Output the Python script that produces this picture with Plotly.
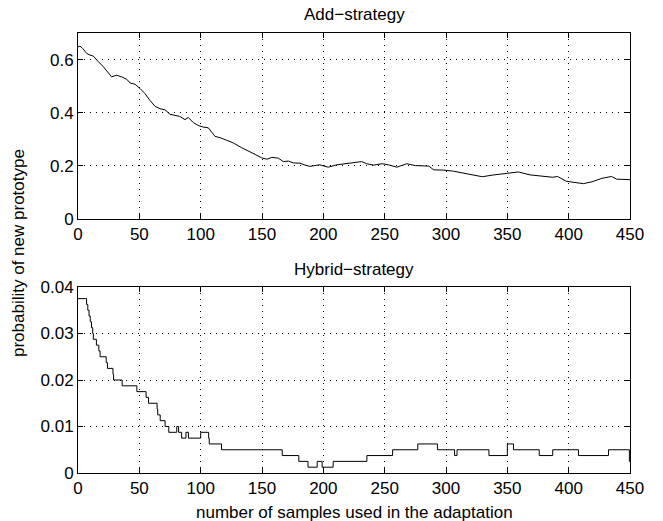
import plotly.graph_objects as go
from plotly.subplots import make_subplots

# Add-strategy curve (sample index, probability)
add_x = [0, 1.6, 3.8, 7.1, 9.8, 12.5, 16.6, 20.7, 27.4, 31.5, 35.6, 39.7, 42.4, 46.5,
         50.6, 54.6, 58.7, 62.8, 66.8, 70.9, 75, 79, 83, 87.2, 89.9, 94, 98, 102,
         106.3, 111.7, 115.8, 121.3, 126.7, 133.5, 139, 144.4, 149.8, 154, 158,
         163.3, 167.4, 171.5, 175.6, 181, 186.4, 189, 197, 204, 211, 222, 231.3,
         235.3, 241, 248, 253, 260, 268, 275, 286, 290, 298, 306, 314, 324, 329.6,
         337.6, 347, 359, 368.5, 376.6, 387, 391, 398, 412, 419, 427, 435, 439,
         448.6, 450]
add_y = [0.648, 0.651, 0.642, 0.623, 0.617, 0.613, 0.592, 0.573, 0.535, 0.541,
         0.535, 0.526, 0.512, 0.507, 0.491, 0.472, 0.446, 0.424, 0.415, 0.411,
         0.394, 0.39, 0.386, 0.374, 0.382, 0.363, 0.352, 0.346, 0.343, 0.311,
         0.306, 0.296, 0.286, 0.268, 0.254, 0.243, 0.23, 0.225, 0.232, 0.229,
         0.216, 0.218, 0.211, 0.21, 0.201, 0.198, 0.204, 0.195, 0.204, 0.21,
         0.216, 0.208, 0.203, 0.208, 0.204, 0.195, 0.208, 0.201, 0.199, 0.185,
         0.184, 0.18, 0.172, 0.164, 0.159, 0.165, 0.17, 0.177, 0.166, 0.162,
         0.157, 0.16, 0.142, 0.133, 0.14, 0.153, 0.16, 0.15, 0.147, 0.148]

# Hybrid-strategy step curve (step start, level)
hyb_x = [0, 7, 8, 9, 10, 11, 12, 12.5, 15, 17, 18, 23, 24, 28.5, 29, 36, 48, 55.5,
         57.5, 64.5, 65, 67, 71, 74, 80.5, 82, 84.5, 88, 90, 100, 106.5, 107, 117,
         166.5, 180, 187.5, 195, 199, 208, 235.5, 256.5, 277, 293, 307, 309, 335,
         350, 355, 376, 387, 408, 432.5, 449.5, 450]
hyb_y = [0.0375, 0.03625, 0.035, 0.03375, 0.0325, 0.03125, 0.03, 0.02875, 0.0275,
         0.02625, 0.025, 0.02375, 0.0225, 0.02125, 0.02, 0.01875, 0.0175, 0.01625,
         0.015, 0.01375, 0.0125, 0.01125, 0.01, 0.00875, 0.01, 0.00875, 0.0075,
         0.00875, 0.0075, 0.00875, 0.0075, 0.00625, 0.005, 0.00375, 0.0025,
         0.00125, 0.0025, 0.00125, 0.0025, 0.00375, 0.005, 0.00625, 0.005,
         0.00375, 0.005, 0.00375, 0.00625, 0.005, 0.00375, 0.005, 0.00375, 0.005,
         0.0025, 0.0025]

x_ticks = [0, 50, 100, 150, 200, 250, 300, 350, 400, 450]
top_yticks = [0, 0.2, 0.4, 0.6]
top_ylabels = ["0", "0.2", "0.4", "0.6"]
bot_yticks = [0, 0.01, 0.02, 0.03, 0.04]
bot_ylabels = ["0", "0.01", "0.02", "0.03", "0.04"]

FONT = "Liberation Sans, Arial, Helvetica, sans-serif"
FS = 17

fig = make_subplots(rows=2, cols=1, vertical_spacing=0.0)
fig.add_trace(go.Scatter(x=add_x, y=add_y, mode="lines",
                         line=dict(color="black", width=1)), row=1, col=1)
fig.add_trace(go.Scatter(x=hyb_x, y=hyb_y, mode="lines", line_shape="hv",
                         line=dict(color="black", width=1)), row=2, col=1)

axis_common = dict(showline=True, linecolor="black", linewidth=1, mirror="ticks",
                   ticks="inside", ticklen=5, tickcolor="black", tickwidth=1,
                   showgrid=True, gridcolor="black", gridwidth=1, griddash="1px,5px",
                   zeroline=False, tickfont=dict(family=FONT, size=FS, color="black"))

fig.update_xaxes(range=[0, 450], tickvals=x_ticks, **axis_common)
fig.update_yaxes(**axis_common)
fig.update_yaxes(range=[0, 0.7], tickvals=top_yticks, ticktext=top_ylabels,
                 domain=[0.5773, 1.0], row=1, col=1)
fig.update_yaxes(range=[0, 0.04], tickvals=bot_yticks, ticktext=bot_ylabels,
                 domain=[0.0, 0.4227], row=2, col=1)

fig.add_annotation(text="Add\u2212strategy", xref="paper", yref="paper", x=0.5, y=1.0,
                   yanchor="bottom", yshift=7, showarrow=False,
                   font=dict(family=FONT, size=FS, color="black"))
fig.add_annotation(text="Hybrid\u2212strategy", xref="paper", yref="paper", x=0.5, y=0.4227,
                   yanchor="bottom", yshift=6, showarrow=False,
                   font=dict(family=FONT, size=FS, color="black"))
fig.add_annotation(text="probability of new prototype", xref="paper", yref="paper",
                   x=0, y=0.5, xanchor="center", yanchor="middle", xshift=-60,
                   textangle=-90, showarrow=False,
                   font=dict(family=FONT, size=FS, color="black"))
fig.add_annotation(text="number of samples used in the adaptation", xref="paper",
                   yref="paper", x=0.5, y=0, yanchor="top", yshift=-28, showarrow=False,
                   font=dict(family=FONT, size=FS, color="black"))

fig.update_layout(width=663, height=521, showlegend=False,
                  paper_bgcolor="white", plot_bgcolor="white",
                  margin=dict(l=78, r=33, t=33, b=48))

fig.write_html("out.html", config={"displayModeBar": False},
               post_script="document.body.style.margin='0px';document.body.style.overflow='hidden';")
